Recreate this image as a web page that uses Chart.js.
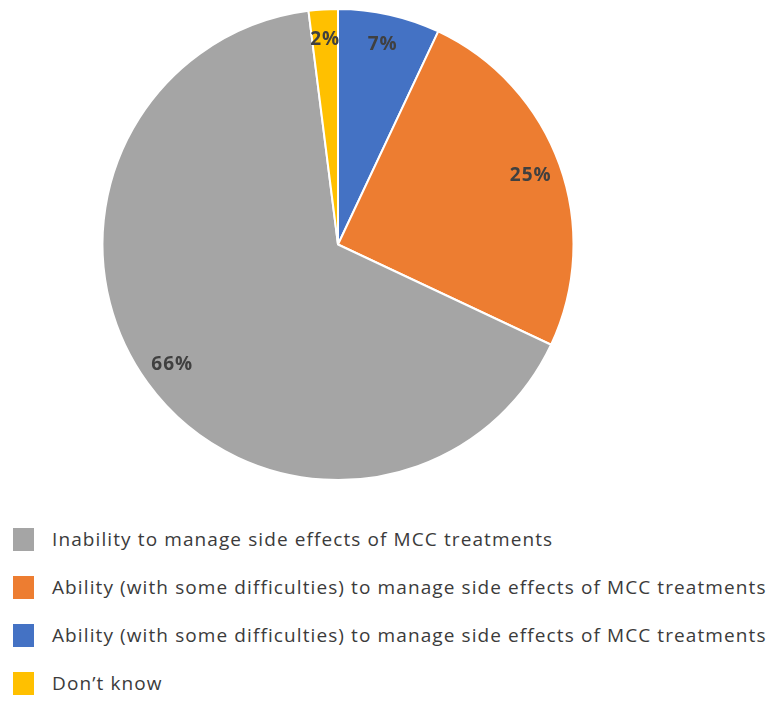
<!DOCTYPE html>
<html>
<head>
<meta charset="utf-8">
<script src="https://cdn.jsdelivr.net/npm/chart.js@4/dist/chart.umd.min.js"></script>
<style>
  html, body { margin: 0; padding: 0; background: #fff; }
  #wrap { position: relative; width: 776px; height: 709px; overflow: hidden; }
  #pie-box { position: absolute; left: 0; top: 0; width: 776px; height: 500px; }
  #legend { position: absolute; left: 13px; top: 527px; margin: 0; padding: 0; list-style: none; }
  #legend li { display: flex; align-items: center; height: 24px; margin-bottom: 24px;
    font-family: "Open Sans", sans-serif; font-size: 19px; letter-spacing: 1.1px;
    color: #3b3b3b; white-space: nowrap; }
  #legend .swatch { width: 21px; height: 23px; margin-right: 18px; flex: none; }
</style>
</head>
<body>
<div id="wrap">
  <div id="pie-box"><canvas id="pieChart"></canvas></div>
  <ul id="legend"></ul>
</div>
<script>
// slices in drawing order, clockwise from 12 o'clock
const labels = [
  'Ability (with some difficulties) to manage side effects of MCC treatments',
  'Ability (with some difficulties) to manage side effects of MCC treatments',
  'Inability to manage side effects of MCC treatments',
  'Don\u2019t know'
]
const values = [7, 25, 66, 2]
const colors = ['#4472C4', '#ED7D31', '#A5A5A5', '#FFC000']
// order of entries in the legend list
const legendOrder = [2, 1, 0, 3]

// percent labels placed near the outer edge of each slice
const sliceLabels = {
  id: 'sliceLabels',
  afterDatasetsDraw(chart) {
    const ctx = chart.ctx
    const meta = chart.getDatasetMeta(0)
    const total = values.reduce((a, b) => a + b, 0)
    ctx.save()
    ctx.font = 'bold 19px "Open Sans", sans-serif'
    ctx.letterSpacing = '1px'
    ctx.fillStyle = '#404040'
    ctx.textAlign = 'center'
    ctx.textBaseline = 'middle'
    meta.data.forEach((arc, i) => {
      const { x, y, startAngle, endAngle, outerRadius } = arc.getProps(['x', 'y', 'startAngle', 'endAngle', 'outerRadius'], true)
      const mid = (startAngle + endAngle) / 2
      const r = outerRadius * 0.87
      const pct = Math.round(values[i] / total * 100) + '%'
      ctx.fillText(pct, x + Math.cos(mid) * r, y + Math.sin(mid) * r)
    })
    ctx.restore()
  }
}

const chart = new Chart('pieChart', {
  type: 'pie',
  data: {
    labels: labels,
    datasets: [{
      data: values,
      backgroundColor: colors,
      borderColor: '#ffffff',
      borderWidth: 2
    }]
  },
  options: {
    responsive: true,
    maintainAspectRatio: false,
    animation: false,
    layout: { padding: { top: 8, right: 100, bottom: 19, left: 0 } },
    plugins: {
      legend: { display: false },
      tooltip: { enabled: false }
    }
  },
  plugins: [sliceLabels]
})

// build the legend list from the chart's own legend items
const items = Chart.overrides.pie.plugins.legend.labels.generateLabels(chart)
const list = document.getElementById('legend')
legendOrder.forEach(i => {
  const it = items[i]
  const li = document.createElement('li')
  const sw = document.createElement('span')
  sw.className = 'swatch'
  sw.style.background = it.fillStyle
  li.appendChild(sw)
  li.appendChild(document.createTextNode(it.text))
  list.appendChild(li)
})
</script>
</body>
</html>
